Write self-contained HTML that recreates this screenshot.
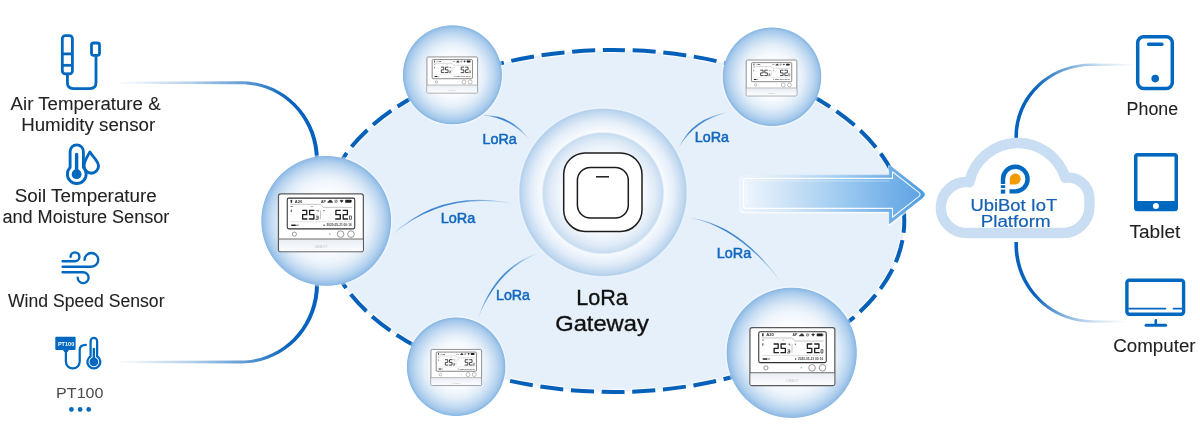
<!DOCTYPE html>
<html>
<head>
<meta charset="utf-8">
<title>LoRa Gateway Diagram</title>
<style>
  html, body { margin: 0; padding: 0; background: #ffffff; }
  body { width: 1200px; height: 439px; overflow: hidden; font-family: "Liberation Sans", sans-serif; }
  svg { display: block; will-change: transform; }
  text { font-family: "Liberation Sans", sans-serif; }
  .lbl { font-size: 17.5px; fill: #222222; stroke: #222222; stroke-width: 0.08px; }
  .lora { font-size: 14px; fill: #1268c0; stroke: #1268c0; stroke-width: 0.5px; }
  .plat { font-size: 16px; fill: #1460b4; stroke: #1460b4; stroke-width: 0.2px; }
</style>
</head>
<body>
<svg width="1200" height="439" viewBox="0 0 1200 439">
  <defs>
    <radialGradient id="gSensor" cx="50%" cy="50%" r="50%">
      <stop offset="0" stop-color="#ffffff"/>
      <stop offset="0.45" stop-color="#fbfdff"/>
      <stop offset="0.62" stop-color="#eff5fc"/>
      <stop offset="0.72" stop-color="#e0ecf8"/>
      <stop offset="0.82" stop-color="#c8def3"/>
      <stop offset="0.9" stop-color="#b1cfee"/>
      <stop offset="0.955" stop-color="#9ac2e8"/>
      <stop offset="0.985" stop-color="#8ab8e5"/>
      <stop offset="1" stop-color="#8ab8e5" stop-opacity="0"/>
    </radialGradient>
    <radialGradient id="gSensorS" cx="50%" cy="50%" r="50%">
      <stop offset="0" stop-color="#ffffff"/>
      <stop offset="0.45" stop-color="#f8fbfe"/>
      <stop offset="0.64" stop-color="#e3eef9"/>
      <stop offset="0.8" stop-color="#c3dbf2"/>
      <stop offset="0.93" stop-color="#a3c7ea"/>
      <stop offset="0.98" stop-color="#88b8e4"/>
      <stop offset="1" stop-color="#88b8e4" stop-opacity="0"/>
    </radialGradient>
    <radialGradient id="gOuter" cx="50%" cy="50%" r="50%">
      <stop offset="0.7" stop-color="#fbfdff"/>
      <stop offset="0.84" stop-color="#e4eef9"/>
      <stop offset="0.95" stop-color="#c2d9f0"/>
      <stop offset="0.982" stop-color="#b2d0ec"/>
      <stop offset="1" stop-color="#b2d0ec" stop-opacity="0"/>
    </radialGradient>
    <radialGradient id="gInner" cx="50%" cy="50%" r="50%">
      <stop offset="0" stop-color="#ffffff"/>
      <stop offset="0.62" stop-color="#fbfdff"/>
      <stop offset="0.85" stop-color="#e0ebf7"/>
      <stop offset="0.97" stop-color="#c8ddf1"/>
      <stop offset="1" stop-color="#c8ddf1" stop-opacity="0"/>
    </radialGradient>
    <linearGradient id="gArrow" gradientUnits="userSpaceOnUse" x1="743" y1="0" x2="920" y2="0">
      <stop offset="0" stop-color="#edf5fd"/>
      <stop offset="0.12" stop-color="#dfedfa"/>
      <stop offset="0.32" stop-color="#c2ddf5"/>
      <stop offset="0.55" stop-color="#9ecbf0"/>
      <stop offset="0.78" stop-color="#7db6ea"/>
      <stop offset="1" stop-color="#5fa4e3"/>
    </linearGradient>
    <linearGradient id="gArrowOut" gradientUnits="userSpaceOnUse" x1="740" y1="0" x2="927" y2="0">
      <stop offset="0" stop-color="#ecf4fc"/>
      <stop offset="0.25" stop-color="#d3e7f8"/>
      <stop offset="0.5" stop-color="#a9d0f2"/>
      <stop offset="0.78" stop-color="#72b0e8"/>
      <stop offset="1" stop-color="#4a9ae0"/>
    </linearGradient>
    <linearGradient id="gLineL1" gradientUnits="userSpaceOnUse" x1="114" y1="0" x2="290" y2="0">
      <stop offset="0" stop-color="#0662bc" stop-opacity="0"/>
      <stop offset="0.44" stop-color="#0662bc" stop-opacity="0.3"/>
      <stop offset="0.73" stop-color="#0662bc" stop-opacity="0.62"/>
      <stop offset="1" stop-color="#0662bc" stop-opacity="1"/>
    </linearGradient>
    <linearGradient id="gLineR1" gradientUnits="userSpaceOnUse" x1="1016" y1="0" x2="1136" y2="0">
      <stop offset="0" stop-color="#0662bc" stop-opacity="1"/>
      <stop offset="0.15" stop-color="#0662bc" stop-opacity="1"/>
      <stop offset="0.46" stop-color="#0662bc" stop-opacity="0.5"/>
      <stop offset="0.7" stop-color="#0662bc" stop-opacity="0.2"/>
      <stop offset="1" stop-color="#0662bc" stop-opacity="0"/>
    </linearGradient>
    <linearGradient id="gLineR2" gradientUnits="userSpaceOnUse" x1="1016" y1="0" x2="1128" y2="0">
      <stop offset="0" stop-color="#0662bc" stop-opacity="1"/>
      <stop offset="0.17" stop-color="#0662bc" stop-opacity="1"/>
      <stop offset="0.42" stop-color="#0662bc" stop-opacity="0.5"/>
      <stop offset="0.69" stop-color="#0662bc" stop-opacity="0.2"/>
      <stop offset="1" stop-color="#0662bc" stop-opacity="0"/>
    </linearGradient>
    <!-- sensor device symbol: 86 x 59 -->
    <linearGradient id="gBase" x1="0" y1="0" x2="0" y2="1">
      <stop offset="0" stop-color="#e9eef4"/>
      <stop offset="1" stop-color="#fbfcfe"/>
    </linearGradient>
    <symbol id="dev" viewBox="0 0 86 59" preserveAspectRatio="none" overflow="visible">
      <rect x="0.55" y="0.55" width="84.9" height="57.9" rx="2.2" fill="#ffffff" style="stroke:var(--ob,#595959)" stroke-width="1.25"/>
      <rect x="1.2" y="46.2" width="83.6" height="11.6" fill="url(#gBase)"/>
      <line x1="0.6" y1="45.7" x2="85.4" y2="45.7" style="stroke:var(--dv,#666)" stroke-width="1"/>
      <rect x="9.35" y="4.75" width="67.5" height="30.8" rx="1.6" fill="#ffffff" style="stroke:var(--lcd,#303030)" stroke-width="1.05"/>
      <!-- top icons -->
      <rect x="12.7" y="6.3" width="1.5" height="3" rx="0.5" fill="#2a2a2a"/>
      <text x="16.8" y="9.3" font-size="3.7" font-weight="bold" fill="#333" textLength="7.6" lengthAdjust="spacingAndGlyphs">A20</text>
      <text x="43.2" y="9.3" font-size="3.7" font-weight="bold" fill="#333" textLength="4.8" lengthAdjust="spacingAndGlyphs">AP</text>
      <path d="M49.6 9.3 Q49.4 7.8 50.8 7.7 Q51.4 6.2 52.9 6.5 Q54.2 6.8 54.2 7.9 Q55.2 8.2 54.9 9.3 Z" fill="#333"/>
      <circle cx="58.2" cy="7.9" r="1.25" fill="none" stroke="#444" stroke-width="0.6"/>
      <line x1="57.2" y1="8.9" x2="59.2" y2="6.9" stroke="#444" stroke-width="0.5"/>
      <path d="M61.8 7.3 Q63.7 5.6 65.6 7.3 L63.7 9.4 Z" fill="#333"/>
      <rect x="67.3" y="6.4" width="6" height="2.9" rx="0.5" fill="#222"/>
      <rect x="73.3" y="7.2" width="0.7" height="1.3" fill="#222"/>
      <path d="M12.3 10.9 H42.4 L45.4 14 H74.3" fill="none" stroke="#8d8d8d" stroke-width="0.5"/>
      <rect x="12.6" y="12.6" width="2.2" height="0.9" fill="#777"/>
      <rect x="33" y="12.6" width="2" height="0.8" fill="#999"/>
      <rect x="12.8" y="16.2" width="1.2" height="2.4" rx="0.4" fill="#555"/>
      <!-- digits -->
      <g fill="none" stroke="#1e1e1e" stroke-width="1.3" stroke-linejoin="round" stroke-linecap="round">
        <path d="M24.7 16.95 H28.8 V21.3 H24.7 V25.65 H29"/>
        <path d="M36 16.95 H31.7 V21.3 H36 V25.65 H31.5"/>
        <path d="M62.4 16.95 H58 V21.3 H62.4 V25.65 H57.8"/>
        <path d="M65.3 16.95 H69.5 V21.3 H65.3 V25.65 H69.7"/>
      </g>
      <g fill="none" stroke="#2a2a2a" stroke-width="0.7" stroke-linejoin="round" stroke-linecap="round">
        <path d="M38.5 22.8 H40.3 V24.4 H38.9 M40.3 24.4 V26 H38.5"/>
        <path d="M72 22.6 H73.5 V26 H72 Z"/>
      </g>
      <rect x="37.6" y="25.4" width="0.7" height="0.7" fill="#222"/>
      <rect x="38.4" y="16.6" width="0.9" height="0.9" fill="#666"/>
      <rect x="39.6" y="16.6" width="1.2" height="1.8" fill="#777"/>
      <line x1="42.6" y1="17.1" x2="42.6" y2="25.6" stroke="#8a8a8a" stroke-width="0.5"/>
      <rect x="45.4" y="16.6" width="1.3" height="1.3" fill="#777"/>
      <line x1="12.3" y1="28.4" x2="74.3" y2="28.4" stroke="#b5b5b5" stroke-width="0.4"/>
      <!-- bottom row -->
      <rect x="13.3" y="31.1" width="4.6" height="1.6" rx="0.3" fill="#222"/>
      <rect x="18.2" y="31.3" width="2.6" height="1.2" fill="#8a8a8a"/>
      <circle cx="46.2" cy="32" r="0.75" fill="#333"/>
      <text x="48.6" y="33.1" font-size="3.1" font-weight="bold" fill="#444" textLength="25.2" lengthAdjust="spacingAndGlyphs">2020-05-21 00:16</text>
      <!-- buttons -->
      <circle cx="16.5" cy="40.8" r="2.1" fill="#fff" stroke="#7a7a7a" stroke-width="0.75"/>
      <circle cx="51.9" cy="40.6" r="0.75" fill="#6ccf9a"/>
      <circle cx="62.7" cy="40.8" r="3.3" fill="#fff" stroke="#7a7a7a" stroke-width="0.75"/>
      <circle cx="73.1" cy="40.8" r="3.3" fill="#fff" stroke="#7a7a7a" stroke-width="0.75"/>
      <text x="36.9" y="55.2" font-size="2.6" fill="#c4c4c4" textLength="12.4" lengthAdjust="spacingAndGlyphs">UBIBOT</text>
    </symbol>
  </defs>

  <!-- ellipse region -->
  <ellipse cx="613.5" cy="221" rx="290.8" ry="171" fill="#e6f0fa"/>
  <path d="M613.5 50 A290.8 171 0 1 1 613.5 392 A290.8 171 0 1 1 613.5 50 Z" fill="none" stroke="#ffffff" stroke-opacity="0.75" stroke-width="6.4" stroke-dasharray="25.1000 5.6399" stroke-dashoffset="12.550"/>
  <path d="M613.5 50 A290.8 171 0 1 1 613.5 392 A290.8 171 0 1 1 613.5 50 Z" fill="none" stroke="#0560ba" stroke-width="4" stroke-dasharray="23.1000 7.6399" stroke-dashoffset="11.550"/>

  <!-- left connector lines -->
  <path d="M114 81.7 L241 81.2 C284 81.2 319 116 319 160 L315 160 C315 118 282 84.2 241 84.2 L114 83.7 Z" fill="url(#gLineL1)"/>
  <path d="M114 363 L241 363.5 C284 363.5 319 328.7 319 284 L315 284 C315 326.7 282 360.5 241 360.5 L114 361 Z" fill="url(#gLineL1)"/>

  <!-- right connector lines -->
  <path d="M1014.4 140 V137 C1014.4 96 1048 63.4 1092 63.4 L1136 63.9 V65.5 L1092 66 C1050 66 1018 98 1018 137 V140 Z" fill="url(#gLineR1)"/>
  <path d="M1014.4 242 V244.7 C1014.4 288 1049 322.8 1093 322.8 L1128 322.3 V320.7 L1093 320.2 C1051 320.2 1018 286 1018 244.7 V242 Z" fill="url(#gLineR2)"/>

  <!-- LoRa thin lines -->
  <linearGradient id="gl1" gradientUnits="userSpaceOnUse" x1="482.5" y1="115.4" x2="529.8" y2="140.3">
    <stop offset="0" stop-color="#3b85cf" stop-opacity="0.35"/>
    <stop offset="0.3" stop-color="#3580cc" stop-opacity="1"/>
    <stop offset="0.6" stop-color="#3b85cf" stop-opacity="0.9"/>
    <stop offset="1" stop-color="#3b85cf" stop-opacity="0.15"/>
  </linearGradient>
  <linearGradient id="gl2" gradientUnits="userSpaceOnUse" x1="392.0" y1="234.9" x2="513.3" y2="203.8">
    <stop offset="0" stop-color="#3b85cf" stop-opacity="0.35"/>
    <stop offset="0.3" stop-color="#3580cc" stop-opacity="1"/>
    <stop offset="0.6" stop-color="#3b85cf" stop-opacity="0.9"/>
    <stop offset="1" stop-color="#3b85cf" stop-opacity="0.15"/>
  </linearGradient>
  <linearGradient id="gl3" gradientUnits="userSpaceOnUse" x1="478.2" y1="317.9" x2="540.1" y2="252.7">
    <stop offset="0" stop-color="#3b85cf" stop-opacity="0.35"/>
    <stop offset="0.3" stop-color="#3580cc" stop-opacity="1"/>
    <stop offset="0.6" stop-color="#3b85cf" stop-opacity="0.9"/>
    <stop offset="1" stop-color="#3b85cf" stop-opacity="0.15"/>
  </linearGradient>
  <linearGradient id="gl4" gradientUnits="userSpaceOnUse" x1="678.7" y1="148.0" x2="729.3" y2="112.0">
    <stop offset="0" stop-color="#3b85cf" stop-opacity="0.35"/>
    <stop offset="0.3" stop-color="#3580cc" stop-opacity="1"/>
    <stop offset="0.6" stop-color="#3b85cf" stop-opacity="0.9"/>
    <stop offset="1" stop-color="#3b85cf" stop-opacity="0.15"/>
  </linearGradient>
  <linearGradient id="gl5" gradientUnits="userSpaceOnUse" x1="689.2" y1="217.7" x2="782.6" y2="284.0">
    <stop offset="0" stop-color="#3b85cf" stop-opacity="0.35"/>
    <stop offset="0.3" stop-color="#3580cc" stop-opacity="1"/>
    <stop offset="0.6" stop-color="#3b85cf" stop-opacity="0.9"/>
    <stop offset="1" stop-color="#3b85cf" stop-opacity="0.15"/>
  </linearGradient>
  <path d="M482.5 115.4 Q509.4 116.9 529.8 140.3 Q511.0 113.9 482.5 115.4 Z" fill="url(#gl1)"/>
  <path d="M392.0 234.9 Q442.6 191.3 513.3 203.8 Q441.8 188.0 392.0 234.9 Z" fill="url(#gl2)"/>
  <path d="M478.2 317.9 Q498.5 267.7 540.1 252.7 Q496.0 265.3 478.2 317.9 Z" fill="url(#gl3)"/>
  <path d="M678.7 148.0 Q694.1 120.2 729.3 112.0 Q692.1 117.4 678.7 148.0 Z" fill="url(#gl4)"/>
  <path d="M689.2 217.7 Q738.6 226.6 782.6 284.0 Q740.5 223.9 689.2 217.7 Z" fill="url(#gl5)"/>

  <!-- arrow -->
  <path d="M744.6 175.2 H889.3 V165.2 L922.3 191.1 Q926.6 194.5 922.3 197.9 L889.3 223.8 V211.4 H744.6 Q740.6 211.4 740.6 207.4 V179.2 Q740.6 175.2 744.6 175.2 Z" fill="none" stroke="#ffffff" stroke-opacity="0.7" stroke-width="2.4" stroke-linejoin="round" transform="translate(0,1)"/>
  <path d="M744.6 175.2 H889.3 V165.2 L922.3 191.1 Q926.6 194.5 922.3 197.9 L889.3 223.8 V211.4 H744.6 Q740.6 211.4 740.6 207.4 V179.2 Q740.6 175.2 744.6 175.2 Z" fill="url(#gArrowOut)" stroke="url(#gArrowOut)" stroke-width="0.8" stroke-linejoin="round"/>
  <path d="M746 178.4 H892.5 V171.8 L918.8 192.4 Q921.4 194.5 918.8 196.6 L892.5 217.2 V208.4 H746 Q743.4 208.4 743.4 205.8 V181 Q743.4 178.4 746 178.4 Z" fill="url(#gArrow)" stroke="#ffffff" stroke-opacity="0.92" stroke-width="1.1" stroke-linejoin="round"/>
  <path d="M748.6 181 H889.4" fill="none" stroke="#ffffff" stroke-opacity="0.2" stroke-width="2.2"/>
  <path d="M746.4 182 V205" fill="none" stroke="#ffffff" stroke-opacity="0.25" stroke-width="2.6"/>

  <!-- sensor circles -->
  <g fill="none" stroke="#ffffff" stroke-opacity="0.4" stroke-width="2.2">
    <circle cx="326.2" cy="220.9" r="65.2"/>
    <circle cx="452.4" cy="74.8" r="49.7"/>
    <circle cx="772" cy="76.75" r="49.5"/>
    <circle cx="456.1" cy="366.75" r="49.5"/>
    <circle cx="791.7" cy="352.8" r="65.4"/>
    <circle cx="603" cy="192.4" r="83.8"/>
  </g>
  <circle cx="326.2" cy="220.9" r="65.4" fill="url(#gSensor)"/>
  <circle cx="452.4" cy="74.8" r="50" fill="url(#gSensorS)"/>
  <circle cx="772" cy="76.75" r="49.75" fill="url(#gSensorS)"/>
  <circle cx="456.1" cy="366.75" r="49.75" fill="url(#gSensorS)"/>
  <circle cx="791.7" cy="352.8" r="65.6" fill="url(#gSensor)"/>

  <!-- devices -->
  <use href="#dev" x="277.9" y="193.4" width="86" height="58.9"/>
  <use href="#dev" x="749.4" y="327" width="86" height="59.1"/>
  <use href="#dev" x="426.6" y="56.6" width="51.3" height="36.7" style="--ob:#707070;--dv:#8c8c8c;--lcd:#454545"/>
  <use href="#dev" x="745.9" y="59.7" width="51.3" height="36.5" style="--ob:#707070;--dv:#8c8c8c;--lcd:#454545"/>
  <use href="#dev" x="430.6" y="349.1" width="51.3" height="36.8" style="--ob:#707070;--dv:#8c8c8c;--lcd:#454545"/>

  <!-- gateway -->
  <circle cx="603" cy="192.4" r="84.5" fill="url(#gOuter)"/>
  <circle cx="603" cy="193.1" r="61.5" fill="url(#gInner)"/>
  <rect x="563.7" y="153" width="78.3" height="78.4" rx="21.5" fill="#ffffff" stroke="#1c1c1c" stroke-width="1.5"/>
  <rect x="577.4" y="167.4" width="50.9" height="50.7" rx="13" fill="#ffffff" stroke="#1c1c1c" stroke-width="1.5"/>
  <line x1="596" y1="176.8" x2="609" y2="176.8" stroke="#1c1c1c" stroke-width="1.5"/>
  <text x="576.2" y="304.7" font-size="22.4" fill="#111" stroke="#111" stroke-width="0.35" textLength="51.6" lengthAdjust="spacingAndGlyphs">LoRa</text>
  <text x="555.2" y="331.2" font-size="22.4" fill="#111" stroke="#111" stroke-width="0.35" textLength="93.6" lengthAdjust="spacingAndGlyphs">Gateway</text>

  <!-- LoRa labels -->
  <text class="lora" x="482.6" y="143.9" textLength="34.2" lengthAdjust="spacingAndGlyphs">LoRa</text>
  <text class="lora" x="440.7" y="223.2" textLength="34.6" lengthAdjust="spacingAndGlyphs">LoRa</text>
  <text class="lora" x="496" y="299.7" textLength="34" lengthAdjust="spacingAndGlyphs">LoRa</text>
  <text class="lora" x="694.8" y="141.9" textLength="34.2" lengthAdjust="spacingAndGlyphs">LoRa</text>
  <text class="lora" x="716.8" y="257.6" textLength="34.4" lengthAdjust="spacingAndGlyphs">LoRa</text>

  <!-- LEFT: sensor icons + labels -->
  <g fill="none" stroke="#0068be" stroke-width="2.8" stroke-linecap="round" stroke-linejoin="round">
    <!-- air temp probe -->
    <rect x="62.3" y="35.6" width="10.1" height="38.2" rx="3"/>
    <line x1="62.5" y1="53.9" x2="72.3" y2="53.9" stroke-linecap="butt"/>
    <line x1="62.5" y1="65.3" x2="72.3" y2="65.3" stroke-linecap="butt"/>
    <path d="M67.4 74 V82.6 Q67.4 88.6 73.4 88.6 H90 Q96 88.6 96 82.6 V56"/>
    <rect x="91.5" y="43" width="8" height="12.3" rx="2"/>
  </g>
  <text class="lbl" x="10.6" y="110.3" textLength="150" lengthAdjust="spacingAndGlyphs">Air Temperature &amp;</text>
  <text class="lbl" x="21.2" y="131.2" textLength="134" lengthAdjust="spacingAndGlyphs">Humidity sensor</text>

  <!-- soil thermometer + drop -->
  <g fill="none" stroke="#0068be" stroke-width="2.85" stroke-linejoin="round">
    <path d="M89.9 152 C93 157 98.5 161 98.5 166 A7.2 7.2 0 0 1 84.1 166 C84.1 161 87 157 89.9 152 Z" fill="#ffffff"/>
    <path d="M70.1 151.5 A6.65 6.65 0 0 1 83.4 151.5 V167.5 A9.4 9.4 0 1 1 70.1 167.5 Z" fill="#ffffff"/>
  </g>
  <circle cx="76.6" cy="174.2" r="4.9" fill="#0068be"/>
  <line x1="76.6" y1="154.5" x2="76.6" y2="174" stroke="#0068be" stroke-width="3.4" stroke-linecap="round"/>
  <text class="lbl" x="14.8" y="202.2" textLength="142" lengthAdjust="spacingAndGlyphs">Soil Temperature</text>
  <text class="lbl" x="2.4" y="222.8" textLength="167" lengthAdjust="spacingAndGlyphs">and Moisture Sensor</text>

  <!-- wind -->
  <g fill="none" stroke="#0068be" stroke-width="2.4" stroke-linecap="round">
    <path d="M62.6 261.2 H75 A4.4 4.4 0 1 0 70.6 256.8"/>
    <path d="M62.6 266.7 H91.4 A6.85 6.85 0 1 0 84.55 259.85"/>
    <path d="M62.6 272.2 H83.15 A5.45 5.45 0 1 1 77.7 277.65"/>
  </g>
  <text class="lbl" x="8" y="306.7" textLength="156.5" lengthAdjust="spacingAndGlyphs">Wind Speed Sensor</text>

  <!-- PT100 -->
  <path d="M56.3 336.7 H74.6 Q75.6 336.7 75.6 337.7 V349 Q75.6 350 74.6 350 H68.8 L67.6 352 H64.2 L63 350 H56.3 Q55.3 350 55.3 349 V337.7 Q55.3 336.7 56.3 336.7 Z" fill="#0068be"/>
  <text x="57.9" y="345.6" font-size="6" font-weight="bold" fill="#ffffff" textLength="16.4" lengthAdjust="spacingAndGlyphs">PT100</text>
  <g fill="none" stroke="#0068be" stroke-width="2.25" stroke-linecap="round" stroke-linejoin="round">
    <path d="M65.9 351 V361.6 A6.9 6.9 0 0 0 79.7 361.6 V350 Q79.7 345 85.8 344.9"/>
    <path d="M90.6 341.1 A3.25 3.25 0 0 1 97.1 341.1 V356.2 A6.5 6.5 0 1 1 90.6 356.2 Z" fill="#ffffff"/>
  </g>
  <circle cx="93.85" cy="361.8" r="4.4" fill="#0068be"/>
  <line x1="93.85" y1="349" x2="93.85" y2="361" stroke="#0068be" stroke-width="2.4" stroke-linecap="round"/>
  <text x="56.1" y="398" font-size="15" fill="#4a4a4a" textLength="47.4" lengthAdjust="spacingAndGlyphs">PT100</text>
  <circle cx="71.4" cy="409.4" r="2.35" fill="#0068be"/>
  <circle cx="80.1" cy="409.4" r="2.35" fill="#0068be"/>
  <circle cx="88.7" cy="409.4" r="2.35" fill="#0068be"/>

  <!-- cloud -->
  <path id="cloud" d="M966.3 233 H1063 A26.5 26.5 0 0 0 1089.5 206.5 V199 A21.5 21.5 0 0 0 1065.32 177.67 A49.75 49.75 0 0 0 969.28 182.17 A25.5 25.5 0 1 0 966.3 233 Z" fill="#ffffff" stroke="#c9def2" stroke-width="10.4" stroke-linejoin="round"/>
  <!-- logo -->
  <path d="M1009.5 191.4 H1015.3 A12.3 12.3 0 1 0 1003 179.4 V184" fill="none" stroke="#0068be" stroke-width="4.4"/>
  <rect x="1000.8" y="185.2" width="4.4" height="2.8" fill="#0068be"/>
  <rect x="1000.8" y="189.6" width="4.4" height="4" fill="#0068be"/>
  <path d="M1009.8 184.4 V179 A5.45 5.45 0 1 1 1015.25 184.4 Z" fill="#f39a00"/>
  <text class="plat" x="970.5" y="210.5" textLength="86.8" lengthAdjust="spacingAndGlyphs">UbiBot IoT</text>
  <text class="plat" x="980.8" y="226.6" textLength="69.7" lengthAdjust="spacingAndGlyphs">Platform</text>

  <!-- phone -->
  <rect x="1137.7" y="36.8" width="34.6" height="51.8" rx="6" fill="#ffffff" stroke="#0068be" stroke-width="3.5"/>
  <line x1="1148.6" y1="44.3" x2="1161.9" y2="44.3" stroke="#0068be" stroke-width="3.4" stroke-linecap="round"/>
  <circle cx="1155.2" cy="78.6" r="3.8" fill="#0068be"/>
  <text class="lbl" x="1126.6" y="115.1" font-size="18" textLength="51.5" lengthAdjust="spacingAndGlyphs">Phone</text>

  <!-- tablet -->
  <rect x="1134" y="152.9" width="44" height="58.3" rx="3.5" fill="#0068be"/>
  <rect x="1137.5" y="156.6" width="37" height="44.4" fill="#ffffff"/>
  <circle cx="1155.9" cy="206.1" r="3" fill="#ffffff"/>
  <text class="lbl" x="1129.5" y="238.1" textLength="50.8" lengthAdjust="spacingAndGlyphs">Tablet</text>

  <!-- computer -->
  <rect x="1126.9" y="280.3" width="56.7" height="34" rx="2.5" fill="#ffffff" stroke="#0068be" stroke-width="3.4"/>
  <line x1="1129" y1="308.6" x2="1165.4" y2="308.6" stroke="#0068be" stroke-width="1.9" stroke-linecap="round"/>
  <line x1="1173.6" y1="308.6" x2="1181.5" y2="308.6" stroke="#0068be" stroke-width="1.9" stroke-linecap="round"/>
  <line x1="1155.8" y1="320.4" x2="1155.8" y2="325" stroke="#0068be" stroke-width="2.6" stroke-linecap="round"/>
  <line x1="1146.1" y1="325.2" x2="1165.6" y2="325.2" stroke="#0068be" stroke-width="3" stroke-linecap="round"/>
  <text class="lbl" x="1113.3" y="351.5" textLength="82.3" lengthAdjust="spacingAndGlyphs">Computer</text>
</svg>
</body>
</html>
